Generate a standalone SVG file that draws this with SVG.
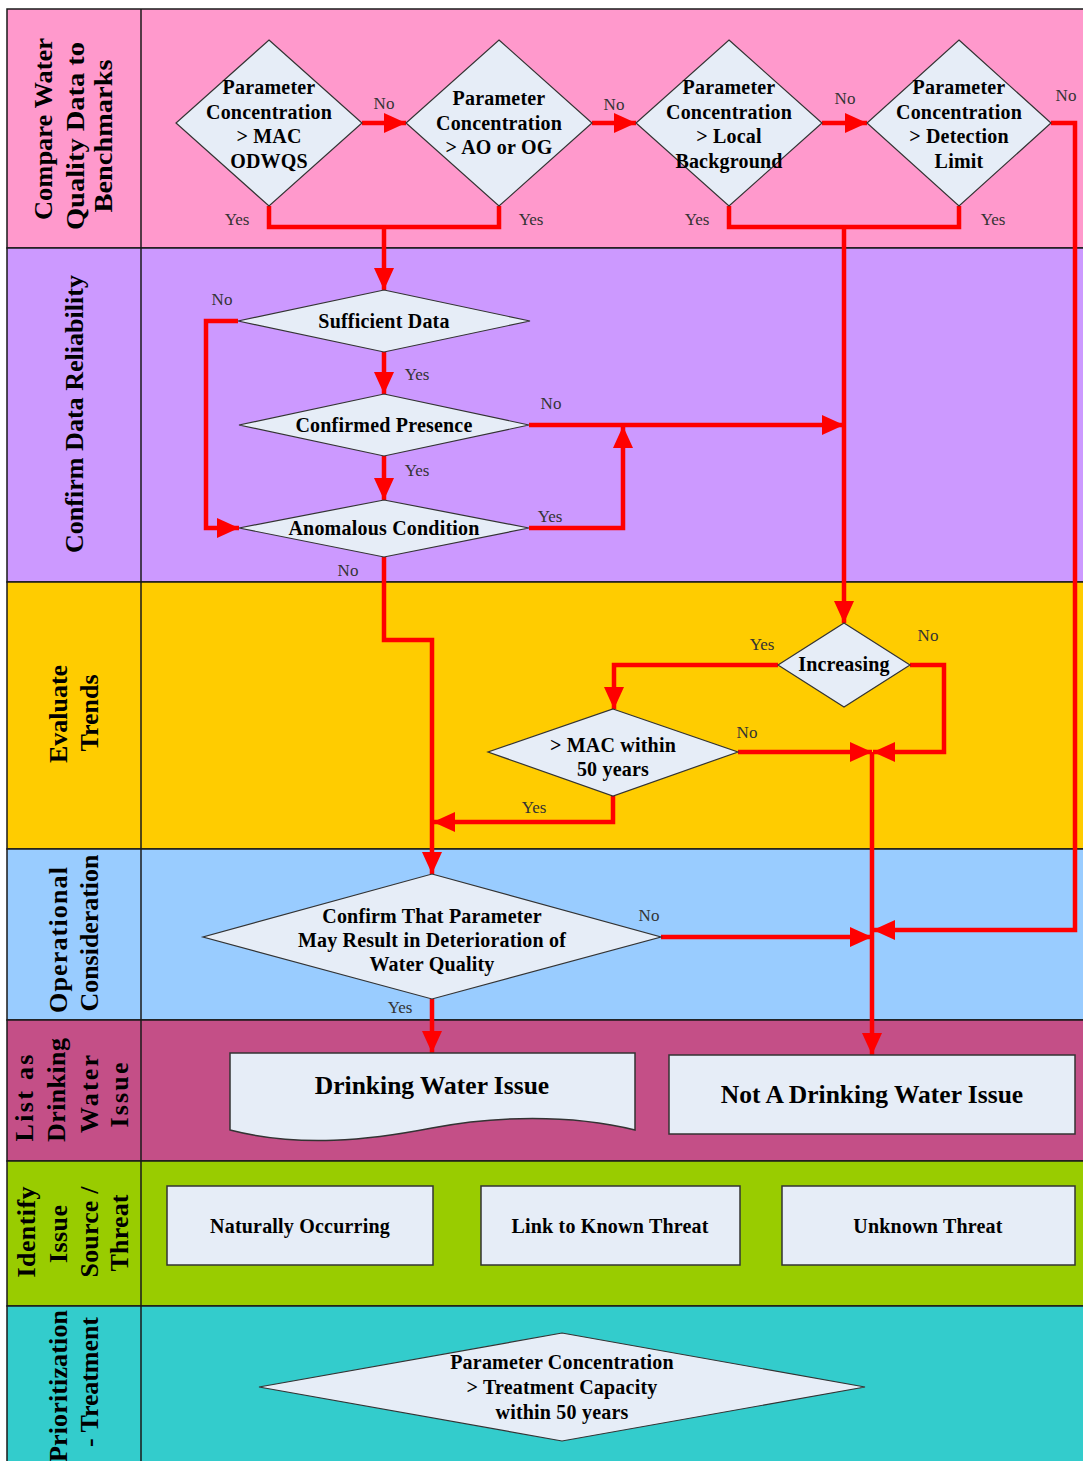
<svg xmlns="http://www.w3.org/2000/svg" width="1083" height="1461" viewBox="0 0 1083 1461">
<defs>
<marker id="ah" markerUnits="userSpaceOnUse" markerWidth="22" markerHeight="20" viewBox="0 0 22 20" refX="22" refY="10" orient="auto">
<path d="M0,0 L22,10 L0,20 z" fill="#FF0000"/>
</marker>
<style>
.lane{stroke:#1a1a1a;stroke-width:1.5}
.hdr{font-family:"Liberation Serif",serif;font-weight:bold;font-size:26px;fill:#000;text-anchor:middle}
.dia{fill:#E6EDF7;stroke:#333;stroke-width:1.2}
.box{fill:#E6EDF7;stroke:#333;stroke-width:1.5}
.t{font-family:"Liberation Serif",serif;font-weight:bold;font-size:20px;fill:#000;text-anchor:middle;letter-spacing:0.2px}
.tb{font-family:"Liberation Serif",serif;font-weight:bold;font-size:25.5px;fill:#000;text-anchor:middle}
.lbl{font-family:"Liberation Serif",serif;font-size:17px;fill:#333;text-anchor:middle}
.c{fill:none;stroke:#FF0000;stroke-width:4.5;stroke-linejoin:miter}
.a{marker-end:url(#ah)}
</style>
</defs>
<rect width="1083" height="1461" fill="#fff"/>
<g id="lanes">
<rect class="lane" x="7" y="9" width="1080" height="239" fill="#FF99CC"/>
<rect class="lane" x="7" y="248" width="1080" height="334" fill="#CC99FF"/>
<rect class="lane" x="7" y="582" width="1080" height="267" fill="#FFCC00"/>
<rect class="lane" x="7" y="849" width="1080" height="171" fill="#99CCFF"/>
<rect class="lane" x="7" y="1020" width="1080" height="141" fill="#C44F87"/>
<rect class="lane" x="7" y="1161" width="1080" height="145" fill="#99CC00"/>
<rect class="lane" x="7" y="1306" width="1080" height="160" fill="#33CCCC"/>
<line class="lane" x1="141" y1="9" x2="141" y2="1461"/>
<text class="hdr" transform="translate(52,129) rotate(-90)" textLength="182" lengthAdjust="spacingAndGlyphs">Compare Water</text>
<text class="hdr" transform="translate(84,136) rotate(-90)" textLength="188" lengthAdjust="spacingAndGlyphs">Quality Data to</text>
<text class="hdr" transform="translate(112,136) rotate(-90)" textLength="153" lengthAdjust="spacingAndGlyphs">Benchmarks</text>
<text class="hdr" transform="translate(83,414) rotate(-90)" textLength="278" lengthAdjust="spacingAndGlyphs">Confirm Data Reliability</text>
<text class="hdr" transform="translate(67,714) rotate(-90)">Evaluate</text>
<text class="hdr" transform="translate(98,713) rotate(-90)">Trends</text>
<text class="hdr" transform="translate(67,940) rotate(-90)" textLength="146" lengthAdjust="spacing">Operational</text>
<text class="hdr" transform="translate(98,933) rotate(-90)" textLength="157" lengthAdjust="spacing">Consideration</text>
<text class="hdr" transform="translate(33,1098) rotate(-90)" textLength="87" lengthAdjust="spacing">List as</text>
<text class="hdr" transform="translate(65,1090) rotate(-90)" textLength="104" lengthAdjust="spacing">Drinking</text>
<text class="hdr" transform="translate(98,1094) rotate(-90)" textLength="78" lengthAdjust="spacing">Water</text>
<text class="hdr" transform="translate(128,1095) rotate(-90)" textLength="65" lengthAdjust="spacing">Issue</text>
<text class="hdr" transform="translate(35,1232) rotate(-90)" textLength="91" lengthAdjust="spacing">Identify</text>
<text class="hdr" transform="translate(67,1234) rotate(-90)" textLength="58" lengthAdjust="spacing">Issue</text>
<text class="hdr" transform="translate(98,1232) rotate(-90)" textLength="91" lengthAdjust="spacing">Source /</text>
<text class="hdr" transform="translate(128,1233) rotate(-90)" textLength="77" lengthAdjust="spacing">Threat</text>
<text class="hdr" transform="translate(67,1386) rotate(-90)" textLength="152" lengthAdjust="spacing">Prioritization</text>
<text class="hdr" transform="translate(98,1382) rotate(-90)" textLength="130" lengthAdjust="spacing">- Treatment</text>
</g>
<g id="connectors">
<path class="c a" d="M362,123 H406"/>
<path class="c a" d="M592,123 H636"/>
<path class="c a" d="M822,123 H867"/>
<path class="c a" d="M1051,123 H1075 V930 H873"/>
<path class="c" d="M269,206 V227 H499 V206"/>
<path class="c a" d="M384,227 V290"/>
<path class="c" d="M729,206 V227 H959 V206"/>
<path class="c a" d="M844,227 V623"/>
<path class="c a" d="M384,352 V394"/>
<path class="c a" d="M384,456 V500"/>
<path class="c a" d="M238,321 H206 V528 H239"/>
<path class="c a" d="M529,425 H844"/>
<path class="c a" d="M529,528 H623 V426"/>
<path class="c a" d="M384,557 V640 H432 V874"/>
<path class="c a" d="M778,665 H614 V709"/>
<path class="c a" d="M910,665 H944 V752 H873"/>
<path class="c a" d="M738,752 H872"/>
<path class="c a" d="M613,796 V822 H433"/>
<path class="c a" d="M872,752 V1055"/>
<path class="c a" d="M661,937 H872"/>
<path class="c a" d="M432,999 V1053"/>
<text class="lbl" x="384" y="109">No</text>
<text class="lbl" x="614" y="110">No</text>
<text class="lbl" x="845" y="104">No</text>
<text class="lbl" x="1066" y="101">No</text>
<text class="lbl" x="237" y="225">Yes</text>
<text class="lbl" x="531" y="225">Yes</text>
<text class="lbl" x="697" y="225">Yes</text>
<text class="lbl" x="993" y="225">Yes</text>
<text class="lbl" x="222" y="305">No</text>
<text class="lbl" x="417" y="380">Yes</text>
<text class="lbl" x="551" y="409">No</text>
<text class="lbl" x="417" y="476">Yes</text>
<text class="lbl" x="550" y="522">Yes</text>
<text class="lbl" x="348" y="576">No</text>
<text class="lbl" x="762" y="650">Yes</text>
<text class="lbl" x="928" y="641">No</text>
<text class="lbl" x="747" y="738">No</text>
<text class="lbl" x="534" y="813">Yes</text>
<text class="lbl" x="649" y="921">No</text>
<text class="lbl" x="400" y="1013">Yes</text>
</g>
<g id="d1">
<polygon class="dia" points="269,40 362,123 269,206 176,123"/>
<text class="t" x="269" y="94">Parameter</text>
<text class="t" x="269" y="118.5">Concentration</text>
<text class="t" x="269" y="143">&gt; MAC</text>
<text class="t" x="269" y="167.5">ODWQS</text>
</g>
<g id="d2">
<polygon class="dia" points="499,40 592,123 499,206 406,123"/>
<text class="t" x="499" y="105">Parameter</text>
<text class="t" x="499" y="130">Concentration</text>
<text class="t" x="499" y="154">&gt; AO or OG</text>
</g>
<g id="d3">
<polygon class="dia" points="729,40 822,123 729,206 636,123"/>
<text class="t" x="729" y="94">Parameter</text>
<text class="t" x="729" y="118.5">Concentration</text>
<text class="t" x="729" y="143">&gt; Local</text>
<text class="t" x="729" y="167.5">Background</text>
</g>
<g id="d4">
<polygon class="dia" points="959,40 1051,123 959,206 867,123"/>
<text class="t" x="959" y="94">Parameter</text>
<text class="t" x="959" y="118.5">Concentration</text>
<text class="t" x="959" y="143">&gt; Detection</text>
<text class="t" x="959" y="167.5">Limit</text>
</g>
<g id="sufficient">
<polygon class="dia" points="384,290 530,321 384,352 238,321"/>
<text class="t" x="384" y="328">Sufficient Data</text>
</g>
<g id="confirmed">
<polygon class="dia" points="384,394 529,425 384,456 239,425"/>
<text class="t" x="384" y="432">Confirmed Presence</text>
</g>
<g id="anomalous">
<polygon class="dia" points="384,500 529,528 384,557 239,528"/>
<text class="t" x="384" y="535">Anomalous Condition</text>
</g>
<g id="increasing">
<polygon class="dia" points="844,623 910,665 844,707 778,665"/>
<text class="t" x="844" y="671">Increasing</text>
</g>
<g id="macwithin">
<polygon class="dia" points="613,709 738,752 613,796 488,752"/>
<text class="t" x="613" y="752">&gt; MAC within</text>
<text class="t" x="613" y="776">50 years</text>
</g>
<g id="operational">
<polygon class="dia" points="432,874 661,937 432,999 203,937"/>
<text class="t" x="432" y="923">Confirm That Parameter</text>
<text class="t" x="432" y="947">May Result in Deterioration of</text>
<text class="t" x="432" y="971">Water Quality</text>
</g>
<g id="dwi">
<path class="box" d="M230,1053 H635 V1130 C570,1114 494,1116 432,1128 C370,1140 300,1148 230,1130 Z"/>
<text class="tb" x="432" y="1094">Drinking Water Issue</text>
</g>
<g id="notdwi">
<rect class="box" x="669" y="1055" width="406" height="79"/>
<text class="tb" x="872" y="1103">Not A Drinking Water Issue</text>
</g>
<g id="natural">
<rect class="box" x="167" y="1186" width="266" height="79"/>
<text class="t" x="300" y="1233">Naturally Occurring</text>
</g>
<g id="known">
<rect class="box" x="481" y="1186" width="259" height="79"/>
<text class="t" x="610" y="1233">Link to Known Threat</text>
</g>
<g id="unknown">
<rect class="box" x="782" y="1186" width="293" height="79"/>
<text class="t" x="928" y="1233">Unknown Threat</text>
</g>
<g id="treatment">
<polygon class="dia" points="562,1333 865,1387 562,1441 259,1387"/>
<text class="t" x="562" y="1369">Parameter Concentration</text>
<text class="t" x="562" y="1394">&gt; Treatment Capacity</text>
<text class="t" x="562" y="1419">within 50 years</text>
</g>
</svg>
